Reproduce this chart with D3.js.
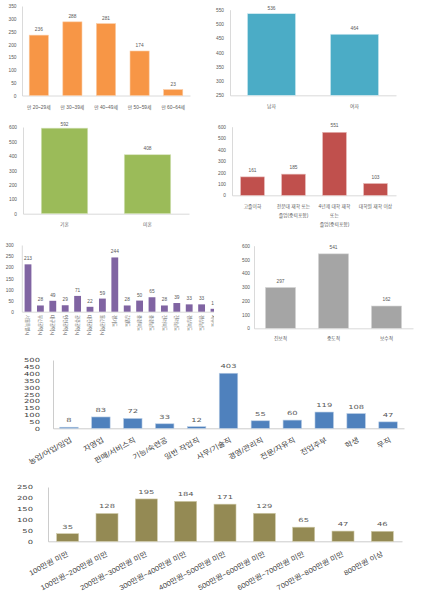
<!DOCTYPE html>
<html><head><meta charset="utf-8">
<script src="https://cdn.jsdelivr.net/npm/d3@7"></script>
<style>body{margin:0;background:#fff}svg{display:block}</style>
</head><body><svg id="c" width="422" height="603"></svg>
<script>
// ---- data ----
const ageCats = ["만 20~29세","만 30~39세","만 40~49세","만 50~59세","만 60~64세"];
const ageVals = [236,288,281,174,23];
const ageTicks = [0,50,100,150,200,250,300,350];

const genderCats = ["남자","여자"];
const genderVals = [536,464];
const genderTicks = [250,300,350,400,450,500,550];

const marriageCats = ["기혼","미혼"];
const marriageVals = [592,408];
const marriageTicks = [0,100,200,300,400,500,600];

const eduCats = ["고졸이하","전문대 재학 또는\n졸업(중퇴포함)","4년제 대학 재학\n또는\n졸업(중퇴포함)","대학원 재학 이상"];
const eduVals = [161,185,551,103];
const eduTicks = [0,100,200,300,400,500,600];

const regionCats = ["서울특별시","부산광역시","대구광역시","인천광역시","광주광역시","대전광역시","울산광역시","경기도","강원도","충청북도","충청남도","전라북도","전라남도","경상북도","경상남도","제주도"];
const regionVals = [213,28,49,29,71,22,59,244,28,50,65,28,39,33,33,13];
const regionTicks = [0,50,100,150,200,250,300];

const politicsCats = ["진보적","중도적","보수적"];
const politicsVals = [297,541,162];
const politicsTicks = [0,100,200,300,400,500,600];

const jobCats = ["농업/어업/임업","자영업","판매/서비스직","기능/숙련공","일반 작업직","사무/기술직","경영/관리직","전문/자유직","전업주부","학생","무직"];
const jobVals = [8,83,72,33,12,403,55,60,119,108,47];
const jobTicks = [0,50,100,150,200,250,300,350,400,450,500];

const incomeCats = ["100만원 미만","100만원~200만원 미만","200만원~300만원 미만","300만원~400만원 미만","400만원~500만원 미만","500만원~600만원 미만","600만원~700만원 미만","700만원~800만원 미만","800만원 이상"];
const incomeVals = [35,128,195,184,171,129,65,47,46];
const incomeTicks = [0,50,100,150,200,250];

// ---- drawing ----
const svg = d3.select("#c");
const SMALL = {ff:"'Liberation Sans','Noto Sans CJK KR',sans-serif", fs:4.8, col:"#595959", sx:1};
const BIG = {ff:"'DejaVu Sans','Noto Sans CJK KR',sans-serif", fs:5.6, col:"#404040", sx:1.5};

function chart(o){
  const g = svg.append("g");
  if(o.clipW){
    const id = "clip"+o.id;
    svg.append("clipPath").attr("id",id).append("rect").attr("x",0).attr("y",0).attr("width",o.clipW).attr("height",603);
    g.attr("clip-path",`url(#${id})`);
  }
  const st = o.style;
  const x = d3.scaleBand().domain(o.cats).range([o.x0,o.x1]).paddingInner(o.pad).paddingOuter(o.pad/2);
  const y = d3.scaleLinear().domain([o.ticks[0],o.ticks[o.ticks.length-1]]).range([o.y0,o.y1]);
  const data = o.cats.map((c,i)=>({c,v:o.vals[i]}));

  // axes
  const ya = g.append("g").attr("transform",`translate(${o.x0},0)`)
    .call(d3.axisLeft(y).tickValues(o.ticks).tickSize(0).tickSizeOuter(0).tickPadding(0));
  ya.select(".domain").attr("stroke",o.axisCol||"#D0D0D0").attr("stroke-width",0.8);
  ya.selectAll("text").attr("font-family",st.ff).attr("font-size",st.fs).attr("fill",st.col)
    .attr("x",-o.tpad/st.sx).attr("dy","0.35em").attr("transform",`scale(${st.sx},1)`);

  const xa = g.append("g").attr("transform",`translate(0,${o.y0})`)
    .call(d3.axisBottom(x).tickSize(0).tickSizeOuter(0).tickFormat(""));
  xa.select(".domain").attr("stroke",o.axisCol||"#D0D0D0").attr("stroke-width",0.8);

  // bars
  g.selectAll("rect.bar").data(data).join("rect").attr("class","bar")
    .attr("x",d=>x(d.c)).attr("width",x.bandwidth())
    .attr("y",d=>y(d.v)).attr("height",d=>o.y0-y(d.v))
    .attr("fill",o.color).attr("stroke",o.stroke||"none").attr("stroke-width",0.6);

  // value labels
  g.selectAll("text.val").data(data).join("text").attr("class","val")
    .attr("transform",d=>`translate(${x(d.c)+x.bandwidth()/2},${Math.max(y(d.v)-o.vgap,o.y1-1)}) scale(${st.sx},1)`)
    .attr("text-anchor","middle").attr("font-family",st.ff).attr("font-size",st.fs).attr("fill","#595959")
    .text(d=>d.v);

  // category labels
  const cx = d=>x(d.c)+x.bandwidth()/2;
  if(o.lab==="h"){
    const t = g.selectAll("text.cat").data(data).join("text").attr("class","cat")
      .attr("text-anchor","middle").attr("font-family",SMALL.ff).attr("font-size",o.lfs||4.8).attr("fill","#595959");
    t.each(function(d){
      const lines = d.c.split("\n");
      d3.select(this).selectAll("tspan").data(lines).join("tspan")
        .attr("x",cx(d)).attr("y",(l,i)=>o.ly+i*(o.lh||9)).text(l=>l);
    });
  } else if(o.lab==="v"){
    g.selectAll("text.cat").data(data).join("text").attr("class","cat")
      .attr("transform",d=>`translate(${cx(d)-1.6},${o.ly}) rotate(90)`)
      .attr("text-anchor","start").attr("font-family",SMALL.ff).attr("font-size",4.4).attr("fill","#595959")
      .text(d=>d.c);
  } else {
    g.selectAll("text.cat").data(data).join("text").attr("class","cat")
      .attr("transform",d=>`translate(${cx(d)+o.ldx},${o.ly}) rotate(${o.ang}) scale(1.1,1)`)
      .attr("text-anchor","end").attr("dy","0.7em").attr("font-family",SMALL.ff).attr("font-size",o.lfs).attr("fill","#404040")
      .text(d=>d.c);
  }
}

chart({id:1,cats:ageCats,vals:ageVals,ticks:ageTicks,x0:22,x1:190,pad:0.43,y0:95.5,y1:6,tpad:5.5,color:"#F79646",stroke:"#FBCBA3",style:SMALL,vgap:4,lab:"h",ly:108.5});
chart({id:2,cats:genderCats,vals:genderVals,ticks:genderTicks,x0:230,x1:396,pad:0.42,y0:95.3,y1:9.7,tpad:6,color:"#4BACC6",stroke:"#D2EBF2",style:SMALL,vgap:4,lab:"h",ly:107.5});
chart({id:3,cats:marriageCats,vals:marriageVals,ticks:marriageTicks,x0:23,x1:189,pad:0.44,y0:213.7,y1:127,tpad:6,color:"#9BBB59",stroke:"#D7E4BD",style:SMALL,vgap:5,lab:"h",ly:225.5});
chart({id:4,cats:eduCats,vals:eduVals,ticks:eduTicks,x0:232,x1:396,pad:0.42,y0:195.3,y1:126.7,tpad:6,color:"#C0504D",stroke:"#E6B9B8",style:SMALL,vgap:5,lab:"h",ly:207.5,lh:9});
chart({id:5,cats:regionCats,vals:regionVals,ticks:regionTicks,x0:21.8,x1:220.2,pad:0.45,y0:311.7,y1:245,tpad:8,color:"#8064A2",style:SMALL,vgap:4,lab:"v",ly:315,clipW:214});
chart({id:6,cats:politicsCats,vals:politicsVals,ticks:politicsTicks,x0:254,x1:413,pad:0.43,y0:328.3,y1:245.7,tpad:4,color:"#A5A5A5",stroke:"#D9D9D9",style:SMALL,vgap:4.5,lab:"h",ly:339.5});
chart({id:7,cats:jobCats,vals:jobVals,ticks:jobTicks,x0:53,x1:404,pad:0.42,y0:428.3,y1:360,tpad:13,color:"#4F81BD",stroke:"#B9CDE5",style:BIG,vgap:5,lab:"d",ly:437,ldx:1,ang:-29,lfs:7.2,axisCol:"#BFBFBF"});
chart({id:8,cats:incomeCats,vals:incomeVals,ticks:incomeTicks,x0:48,x1:402,pad:0.44,y0:541.3,y1:487,tpad:15,color:"#948A54",stroke:"#D0CBAA",style:BIG,vgap:5,lab:"d",ly:551,ldx:-1,ang:-28,lfs:7.0,axisCol:"#BFBFBF"});
</script></body></html>
